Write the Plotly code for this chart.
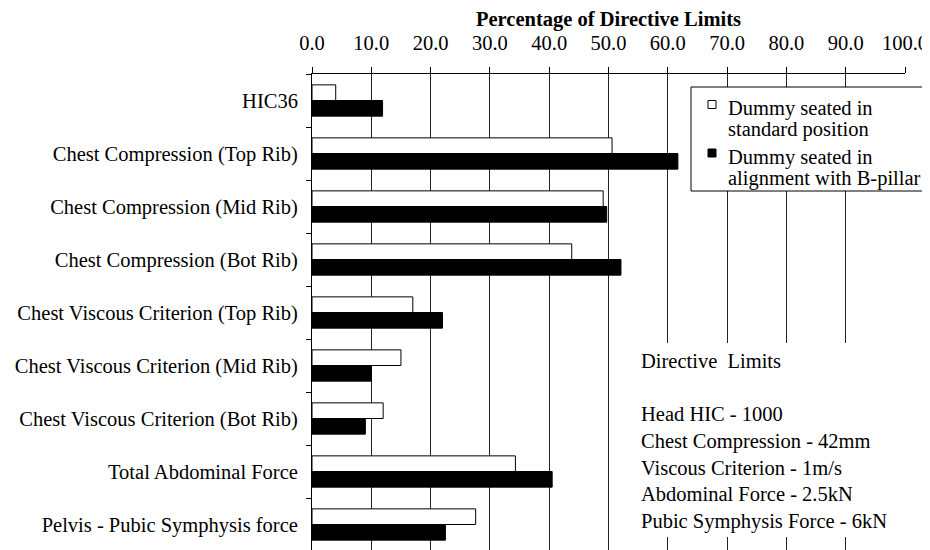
import plotly.graph_objects as go

categories = [
    "HIC36",
    "Chest Compression (Top Rib)",
    "Chest Compression (Mid Rib)",
    "Chest Compression (Bot Rib)",
    "Chest Viscous Criterion (Top Rib)",
    "Chest Viscous Criterion (Mid Rib)",
    "Chest Viscous Criterion (Bot Rib)",
    "Total Abdominal Force",
    "Pelvis - Pubic Symphysis force",
]
standard_position = [4.0, 50.6, 49.1, 43.8, 17.0, 15.0, 12.0, 34.3, 27.6]
bpillar_alignment = [11.9, 61.7, 49.7, 52.1, 22.0, 10.0, 9.0, 40.5, 22.5]
series_names = [["Dummy seated in", "standard position"],
                ["Dummy seated in", "alignment with B-pillar"]]
series_colors = ["white", "black"]
x_ticks = [0, 10, 20, 30, 40, 50, 60, 70, 80, 90, 100]
limits_lines = [
    "Directive\u00a0 Limits",
    "",
    "Head HIC - 1000",
    "Chest Compression - 42mm",
    "Viscous Criterion - 1m/s",
    "Abdominal Force - 2.5kN",
    "Pubic Symphysis Force - 6kN",
]

FONT = "Liberation Serif, Times New Roman, serif"
FS = 20.5

fig = go.Figure()
for vals, names, col in zip([standard_position, bpillar_alignment], series_names, series_colors):
    fig.add_trace(go.Bar(
        y=categories, x=vals, orientation="h", name=" ".join(names),
        marker=dict(color=col, line=dict(color="black", width=1)),
        showlegend=False,
    ))

# page has an 8px body margin; work in page pixels and convert
OFF = 8
W, H = 930, 550
ml, mt = 312 - OFF, 74 - OFF
mr = W - (905 - OFF)
mb = H - (551 - OFF)
pw, ph = W - ml - mr, H - mt - mb

def px_x(px):
    return (px - OFF - ml) / pw

def px_y(py):
    return 1 - (py - OFF - mt) / ph

fig.update_layout(
    width=W, height=H,
    margin=dict(l=ml, r=mr, t=mt, b=mb, autoexpand=False),
    paper_bgcolor="white", plot_bgcolor="white",
    font=dict(family=FONT, size=FS, color="black"),
    barmode="group", bargap=0.41, bargroupgap=0,
    showlegend=False,
    xaxis=dict(
        side="top", range=[0, 100], tickvals=x_ticks, automargin=False,
        tickformat=".1f", ticks="outside", ticklen=6, tickcolor="black",
        showline=True, linecolor="black", linewidth=1,
        showgrid=True, gridcolor="#222", gridwidth=1, zeroline=False,
        title=dict(text="<b>Percentage of Directive Limits</b>",
                   font=dict(family=FONT, size=FS), standoff=5),
        tickfont=dict(family=FONT, size=FS), ticklabelstandoff=9,
    ),
    yaxis=dict(
        type="category", range=[8.5, -0.5], automargin=False,
        ticks="outside", ticklen=5, tickcolor="black", tickson="boundaries",
        showline=True, linecolor="black", linewidth=1, showgrid=False,
        tickfont=dict(family=FONT, size=FS), ticklabelstandoff=9,
    ),
)

# Directive limits text box (white background hides gridlines behind it)
fig.add_shape(type="rect", xref="paper", yref="paper",
              x0=px_x(625), x1=px_x(920), y0=px_y(537), y1=px_y(343),
              fillcolor="white", line=dict(width=0), layer="above")
fig.add_annotation(
    xref="paper", yref="paper", x=px_x(639), y=px_y(441),
    xanchor="left", yanchor="middle", align="left", showarrow=False,
    text="<br>".join(limits_lines),
    font=dict(family=FONT, size=FS, color="black"),
)

# Legend box
fig.add_shape(type="rect", xref="paper", yref="paper",
              x0=px_x(691), x1=px_x(945), y0=px_y(191), y1=px_y(87),
              fillcolor="white", line=dict(color="black", width=1), layer="above")
legend_line_y = [[108, 129], [157, 178]]
legend_square_y = [100.5, 149]
for names, col, ly, sy in zip(series_names, series_colors, legend_line_y, legend_square_y):
    fig.add_shape(type="rect", xref="paper", yref="paper",
                  x0=px_x(708), x1=px_x(716), y0=px_y(sy + 8), y1=px_y(sy),
                  fillcolor=col, line=dict(color="black", width=1), layer="above")
    for txt, yy in zip(names, ly):
        fig.add_annotation(
            xref="paper", yref="paper", x=px_x(726), y=px_y(yy),
            xanchor="left", yanchor="middle", align="left", showarrow=False,
            text=txt, font=dict(family=FONT, size=FS, color="black"),
        )

fig.write_html("out.html")
